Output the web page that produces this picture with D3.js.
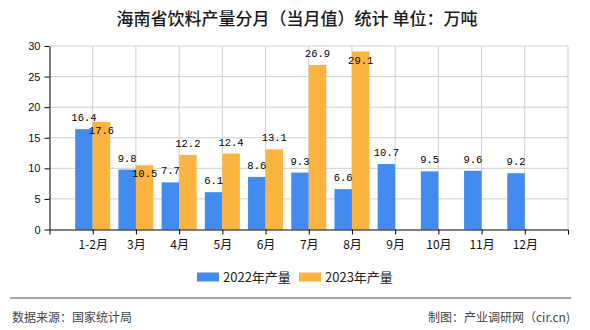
<!DOCTYPE html>
<html><head><meta charset="utf-8">
<script src="https://cdn.jsdelivr.net/npm/d3@7"></script>
<style>
body{margin:0;background:#fff;}
svg{display:block;}
</style></head>
<body>
<svg id="c" width="590" height="330"></svg>
<script>
const categories = ["1-2月","3月","4月","5月","6月","7月","8月","9月","10月","11月","12月"];
const values2022 = [16.4, 9.8, 7.7, 6.1, 8.6, 9.3, 6.6, 10.7, 9.5, 9.6, 9.2];
const values2023 = [17.6, 10.5, 12.2, 12.4, 13.1, 26.9, 29.1, null, null, null, null];
const seriesNames = ["2022年产量", "2023年产量"];
const yTicks = [0, 5, 10, 15, 20, 25, 30];
const colors = ["#418cee", "#fcb441"];

(function () {
const svg = d3.select("#c");
const pl = 49.5, pr = 568, pt = 46, pb = 229.5;
const x = d3.scalePoint().domain(categories).range([pl, pr]).padding(1);
const y = d3.scaleLinear().domain([0, 30]).range([pb, pt]);
const bw = 17.5;

// title
svg.append("text").attr("x", 297).attr("y", 25).attr("text-anchor", "middle")
  .style("font-family", "'Noto Sans CJK SC', sans-serif").style("font-size", "17px")
  .style("font-weight", "500")
  .style("fill", "#1a1a1a").text("海南省饮料产量分月（当月值）统计 单位：万吨");

// grid
const grid = svg.append("g");
grid.selectAll("line.h").data(yTicks.filter(d => d > 0)).enter().append("line")
  .attr("x1", pl).attr("x2", pr).attr("y1", d => y(d)).attr("y2", d => y(d))
  .attr("stroke", "#d0d0d0").attr("stroke-width", 1);
grid.selectAll("line.v").data(categories).enter().append("line")
  .attr("x1", d => x(d)).attr("x2", d => x(d)).attr("y1", pt).attr("y2", pb)
  .attr("stroke", "#d0d0d0").attr("stroke-width", 1);
grid.append("line").attr("x1", pr).attr("x2", pr).attr("y1", pt).attr("y2", pb)
  .attr("stroke", "#d0d0d0").attr("stroke-width", 1);

// bars
const barsData = [];
categories.forEach((c, i) => {
  if (values2022[i] != null) barsData.push({c, v: values2022[i], s: 0});
  if (values2023[i] != null) barsData.push({c, v: values2023[i], s: 1});
});
svg.append("g").selectAll("rect").data(barsData).enter().append("rect")
  .attr("x", d => d.s === 0 ? x(d.c) - bw : x(d.c))
  .attr("width", bw)
  .attr("y", d => y(d.v)).attr("height", d => y(0) - y(d.v))
  .attr("fill", d => colors[d.s]);

// axes
const yAxis = svg.append("g").attr("transform", `translate(${pl},0)`)
  .call(d3.axisLeft(y).tickValues(yTicks).tickSize(5).tickSizeOuter(0).tickPadding(4));
const xAxis = svg.append("g").attr("transform", `translate(0,${pb})`)
  .call(d3.axisBottom(x).tickSize(5).tickSizeOuter(5).tickPadding(6));
[yAxis, xAxis].forEach(a => {
  a.selectAll("path,line").attr("stroke", "#000");
  a.selectAll("text").attr("fill", "#111").style("font-family", "'Liberation Sans', Arial, sans-serif");
});
yAxis.selectAll("text").style("font-size", "11px");
xAxis.selectAll("text").style("font-size", "12px").style("font-family", "'Noto Sans CJK SC', sans-serif");

// value labels
const fs = 10.5, cw = 6.3, ch = 7;
const placed = [];
const labels = barsData.map(d => {
  const cx = d.s === 0 ? x(d.c) - bw / 2 : x(d.c) + bw / 2;
  const txt = d.v.toFixed(1);
  const w = txt.length * cw;
  let base = y(d.v) - 8;
  const overlaps = placed.some(p => p.c === d.c &&
    Math.abs(p.cx - cx) < (p.w + w) / 2 && Math.abs(p.base - base) < ch + 2);
  if (overlaps || base - ch < pt) base = y(d.v) + 12;
  const o = {c: d.c, cx, w, base, txt};
  placed.push(o);
  return o;
});
svg.append("g").selectAll("text").data(labels).enter().append("text")
  .attr("x", d => d.cx).attr("y", d => d.base).attr("text-anchor", "middle")
  .style("font-family", "'Liberation Mono', monospace").style("font-size", fs + "px")
  .style("fill", "#000").text(d => d.txt);

// legend
const lg = svg.append("g");
const legendX = [197, 299];
seriesNames.forEach((n, i) => {
  lg.append("rect").attr("x", legendX[i]).attr("y", 272.5).attr("width", 22).attr("height", 9).attr("fill", colors[i]);
  lg.append("text").attr("x", legendX[i] + 26).attr("y", 281.5)
    .style("font-family", "'Noto Sans CJK SC', sans-serif").style("font-size", "13px")
    .style("fill", "#222").text(n);
});

// footer
svg.append("line").attr("x1", 10).attr("x2", 571).attr("y1", 298).attr("y2", 298)
  .attr("stroke", "#888").attr("stroke-width", 1.5);
svg.append("text").attr("x", 12).attr("y", 321.5)
  .style("font-family", "'Noto Sans CJK SC', sans-serif").style("font-size", "12px")
  .style("fill", "#444").text("数据来源：国家统计局");
svg.append("text").attr("x", 570).attr("y", 321.5).attr("text-anchor", "end")
  .style("font-family", "'Noto Sans CJK SC', sans-serif").style("font-size", "12px")
  .style("fill", "#444").text("制图：产业调研网（cir.cn)");
})();
</script>
</body></html>
